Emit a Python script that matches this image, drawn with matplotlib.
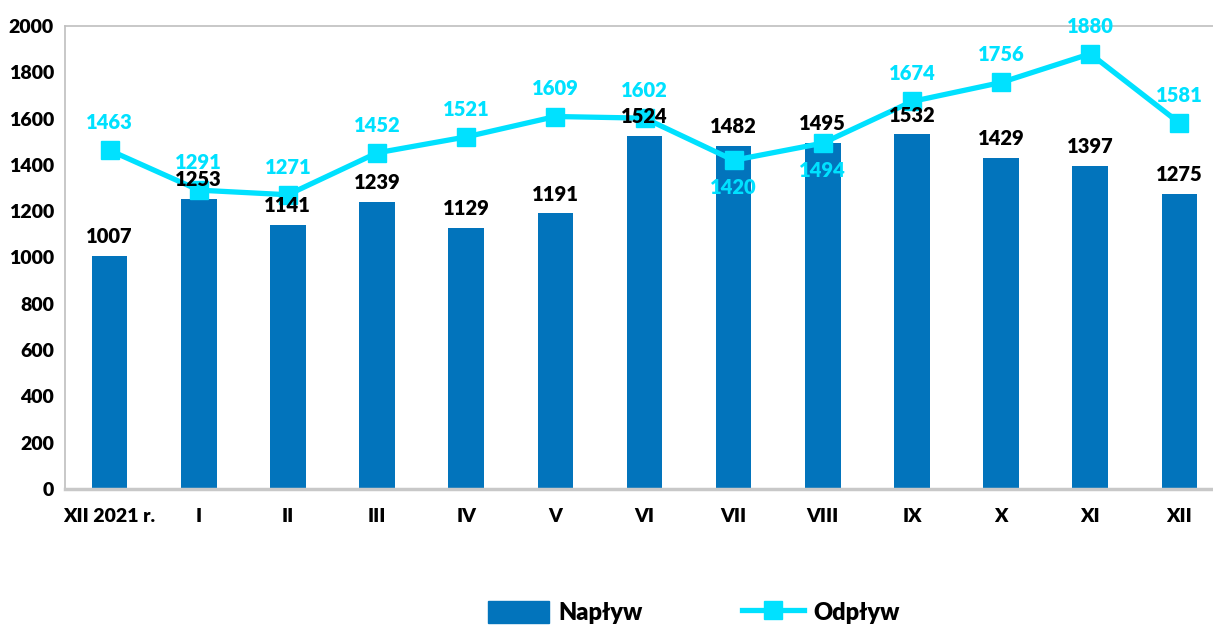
import matplotlib.pyplot as plt
from matplotlib.lines import Line2D
from matplotlib.patches import Patch

# dane
miesiace = ["XII 2021 r.", "I", "II", "III", "IV", "V", "VI", "VII", "VIII", "IX", "X", "XI", "XII"]
naplyw = [1007, 1253, 1141, 1239, 1129, 1191, 1524, 1482, 1495, 1532, 1429, 1397, 1275]
odplyw = [1463, 1291, 1271, 1452, 1521, 1609, 1602, 1420, 1494, 1674, 1756, 1880, 1581]
etykiety_pod = [7, 8]  # etykiety odpływu pod punktem

kolor_bar = "#0274BC"
kolor_linia = "#00E1FF"
waga = "heavy"

plt.rcParams["font.family"] = ["Lato", "DejaVu Sans"]
plt.rcParams["font.weight"] = waga

fig = plt.figure(figsize=(12.13, 6.28), dpi=100)
ax = fig.add_axes([65 / 1213, 1 - 489 / 628, (1224 - 65) / 1213, (489 - 26) / 628])

x = range(len(miesiace))
ax.bar(x, naplyw, width=0.4, color=kolor_bar, zorder=2)
ax.plot(x, odplyw, color=kolor_linia, linewidth=3.8, marker="s", markersize=13, zorder=3)

for i, v in enumerate(naplyw):
    ax.annotate(str(v), (i, v), xytext=(0, 7), textcoords="offset points",
                ha="center", va="bottom", fontsize=14.5, fontweight=waga, color="black", zorder=4)

for i, v in enumerate(odplyw):
    if i in etykiety_pod:
        off, va = -13, "top"
    else:
        off, va = 13, "bottom"
    ax.annotate(str(v), (i, v), xytext=(0, off), textcoords="offset points",
                ha="center", va=va, fontsize=14.5, fontweight=waga, color=kolor_linia, zorder=4)

ax.set_xlim(-0.5, len(miesiace) - 0.5)
ax.set_ylim(0, 2000)
ax.set_yticks(range(0, 2001, 200))
ax.set_xticks(list(x))
ax.set_xticklabels(miesiace)
ax.tick_params(axis="both", length=0, labelsize=14)
ax.tick_params(axis="x", pad=14)
ax.tick_params(axis="y", pad=8)
for lab in ax.get_xticklabels() + ax.get_yticklabels():
    lab.set_fontweight(waga)

for s in ["left", "top", "right"]:
    ax.spines[s].set_color("#BFBFBF")
    ax.spines[s].set_linewidth(1.2)
ax.spines["bottom"].set_color("#C8C8C8")
ax.spines["bottom"].set_linewidth(2.5)

uchwyty = [
    Patch(facecolor=kolor_bar, edgecolor=kolor_bar),
    Line2D([0], [0], color=kolor_linia, linewidth=3.8, marker="s", markersize=13),
]
fig.legend(uchwyty, ["Napływ", "Odpływ"], loc="center", bbox_to_anchor=(0.572, 0.025),
           ncol=2, frameon=False, prop={"size": 17, "weight": waga},
           handlelength=2.6, handleheight=1.1, handletextpad=0.4, columnspacing=4.2)

fig.savefig("out.png", dpi=100)
